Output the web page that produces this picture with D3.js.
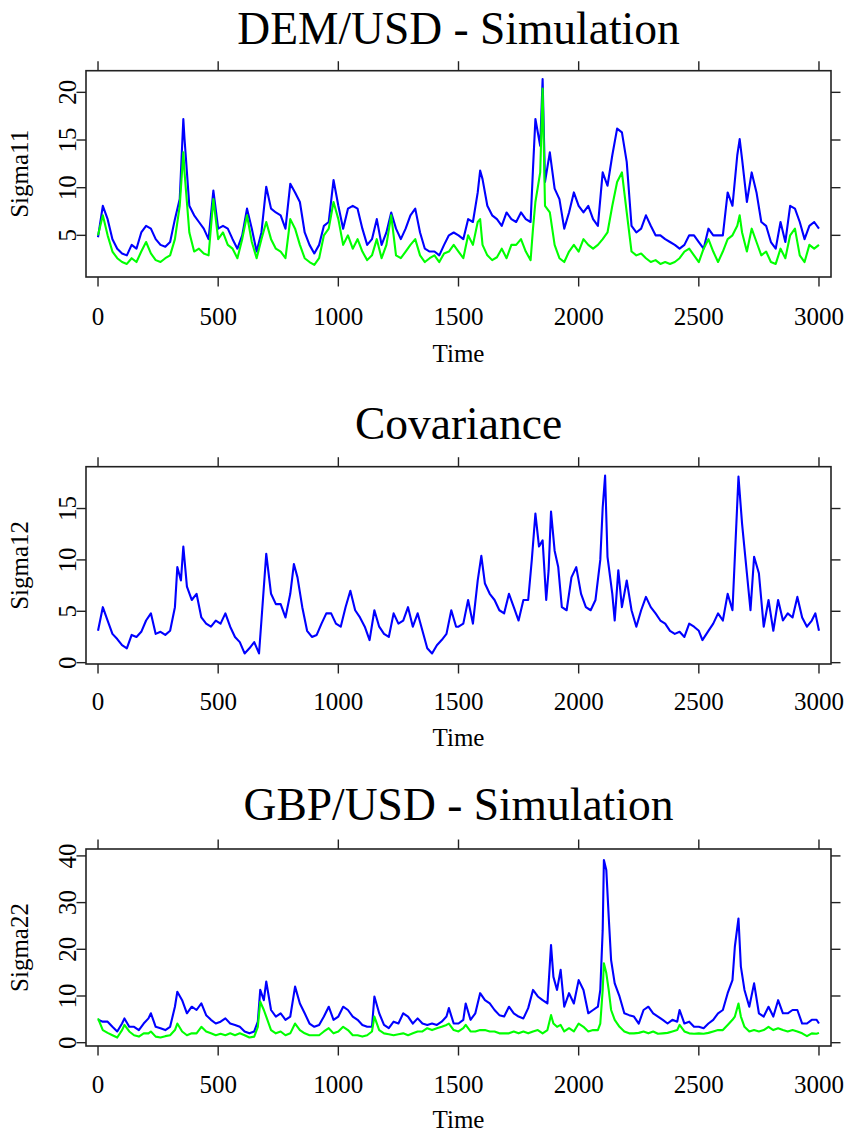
<!DOCTYPE html>
<html><head><meta charset="utf-8">
<script src="https://cdn.jsdelivr.net/npm/d3@7"></script>
<style>
html,body{margin:0;padding:0;background:#fff;}
svg{display:block;}
text{font-family:"Liberation Serif","Times New Roman",serif;fill:#000;}
</style></head>
<body>
<svg id="chart" width="849" height="1133"></svg>
<script>
// ---------------- DATA ----------------
const titles = ["DEM/USD - Simulation", "Covariance", "GBP/USD - Simulation"];
const yLabels = ["Sigma11", "Sigma12", "Sigma22"];
const xLabel = "Time";
const xTicks = [0, 500, 1000, 1500, 2000, 2500, 3000];
const yTicks1 = [5, 10, 15, 20];
const yTicks2 = [0, 5, 10, 15];
const yTicks3 = [0, 10, 20, 30, 40];

const time1 = [0,20,40,60,80,100,120,140,160,180,200,220,240,260,280,300,320,340,355,360,380,400,420,440,460,480,500,520,540,560,580,600,620,640,660,680,700,720,740,760,780,800,820,840,860,880,900,920,940,960,980,1000,1020,1040,1060,1080,1100,1120,1140,1160,1180,1200,1220,1240,1260,1280,1300,1320,1340,1360,1380,1400,1420,1440,1460,1480,
1500,1520,1540,1560,1580,1590,1600,1620,1640,1660,1680,1700,1720,1740,1760,1780,1800,1810,1820,1840,1850,1860,1880,1900,1920,1940,1960,1980,2000,2020,2040,2060,2080,2100,2120,2140,2160,2180,2200,2220,2240,2260,2280,2300,2320,2340,2360,2380,2400,2420,2440,2460,2480,2500,2520,2540,2560,2580,2600,2620,2640,2660,2670,2680,2700,2720,2740,2760,2780,2800,2820,2840,2860,2880,2900,2920,2940,2960,2980,3000];
const sigma11Blue = [4.8,8.1,6.7,4.6,3.6,3.1,2.9,4.0,3.6,5.3,6.0,5.7,4.6,4.0,3.8,4.3,6.7,8.8,17.2,15.1,8.1,7.1,6.4,5.7,4.6,9.7,5.7,6.0,5.7,4.6,3.6,5.0,7.8,5.7,3.3,5.3,10.1,7.8,7.4,7.1,5.7,10.4,9.5,8.5,5.3,4.0,3.1,4.0,6.0,6.4,10.8,8.1,5.7,7.8,8.1,7.8,5.7,4.0,4.6,6.7,4.0,5.3,7.4,5.7,4.6,5.7,7.1,7.8,5.3,3.6,3.3,3.3,2.9,4.0,5.0,5.3,
5.0,4.6,6.7,6.4,9.5,11.8,10.9,8.1,7.1,6.7,6.0,7.4,6.7,6.4,7.4,6.7,6.4,12.0,17.2,14.4,21.4,10.6,13.7,9.9,8.8,5.7,7.4,9.5,8.1,7.4,8.1,6.7,6.0,11.6,10.2,13.4,16.2,15.8,12.7,6.0,5.3,5.7,7.1,6.0,5.0,5.0,4.6,4.3,4.0,3.6,4.0,5.0,5.0,4.3,3.6,5.7,5.0,5.0,5.0,9.5,8.1,13.4,15.1,13.0,8.5,11.6,9.5,6.4,6.0,4.3,3.6,6.4,4.3,8.1,7.8,6.4,4.6,6.0,6.4,5.7];
const sigma11Green = [5.0,7.1,5.0,3.3,2.6,2.2,2.0,2.6,2.2,3.3,4.3,3.1,2.4,2.2,2.6,2.9,4.6,8.1,13.7,11.6,5.3,3.3,3.6,3.1,2.9,8.8,4.6,5.3,4.0,3.6,2.6,4.6,7.1,4.3,2.6,4.6,6.4,4.6,3.6,3.3,2.6,6.7,5.7,4.0,2.6,2.2,1.9,2.6,5.0,5.7,8.5,6.7,4.0,5.0,3.6,4.6,3.3,2.4,2.9,4.6,2.6,4.0,7.1,2.9,2.6,3.3,4.0,4.6,2.9,2.2,2.6,2.9,2.2,3.1,3.3,4.0,
3.3,2.6,5.0,4.0,6.4,6.7,4.0,2.9,2.4,2.7,3.6,2.6,4.0,4.0,4.6,3.3,2.4,5.7,8.5,11.6,20.4,8.1,7.4,4.0,2.6,2.2,3.3,4.0,3.3,4.6,4.0,3.6,4.0,4.6,5.3,8.1,10.6,11.6,7.4,3.3,2.9,3.1,2.6,2.2,2.4,2.0,2.2,2.0,2.2,2.6,3.3,3.6,2.9,2.2,3.6,4.6,3.3,2.2,3.3,4.6,5.0,6.0,7.1,5.3,3.3,5.7,4.3,2.9,3.3,2.2,2.0,3.6,2.6,5.0,5.7,2.9,2.2,4.0,3.6,4.0];

const time2 = [0,20,40,60,80,100,120,140,160,180,200,220,240,260,280,300,320,330,345,355,370,390,410,430,450,470,490,510,530,550,570,590,610,630,650,670,680,700,720,740,760,780,800,815,830,850,870,890,910,930,950,970,990,1010,1030,1050,1070,1090,1110,1130,1150,1170,1190,1210,1230,1250,1270,1290,1310,1330,1350,1370,1390,1410,1430,1450,1470,1490,
1500,1520,1540,1560,1580,1595,1610,1630,1650,1670,1690,1710,1730,1750,1770,1790,1805,1820,1835,1850,1865,1875,1885,1900,1915,1930,1950,1970,1990,2010,2030,2050,2070,2090,2100,2110,2120,2140,2150,2165,2180,2200,2220,2240,2260,2280,2300,2320,2340,2360,2380,2400,2420,2440,2460,2480,2500,2515,2540,2560,2580,2600,2620,2640,2650,2665,2680,2700,2715,2730,2750,2770,2790,2810,2830,2850,2870,2890,2910,2930,2950,2970,2985,3000];
const sigma12 = [3.1,5.4,4.1,2.8,2.3,1.7,1.4,2.7,2.5,3.0,4.1,4.8,2.8,3.0,2.7,3.1,5.4,9.3,8.0,11.3,7.4,6.1,6.7,4.4,3.8,3.5,4.1,3.8,4.8,3.5,2.5,2.0,0.9,1.4,2.0,0.9,4.1,10.6,6.7,5.7,5.7,4.4,6.7,9.6,8.3,5.4,3.1,2.5,2.7,3.8,4.8,4.8,3.8,3.5,5.4,7.0,5.1,4.4,3.5,2.2,5.1,3.5,2.8,2.5,4.8,3.8,4.1,5.4,3.5,4.8,3.1,1.4,0.9,1.7,2.2,2.8,5.1,3.5,
3.5,3.8,6.1,3.8,8.0,10.4,7.7,6.7,6.1,5.1,4.8,6.7,5.4,4.1,6.1,6.1,10.0,14.5,11.3,11.9,6.1,9.0,14.7,10.9,9.3,5.4,5.1,8.3,9.3,6.7,5.4,5.1,6.1,10.0,15.1,18.2,10.3,6.7,4.1,9.0,5.4,8.0,5.1,3.5,5.1,6.4,5.4,4.8,4.1,3.8,3.1,2.8,3.0,2.5,3.8,3.5,3.1,2.2,3.1,3.8,4.8,4.1,6.7,5.1,10.3,18.1,13.5,8.7,5.1,10.3,8.7,3.5,6.1,3.1,6.1,4.1,4.8,4.4,6.4,4.4,3.5,4.1,4.8,3.1];

const time3 = [0,20,40,60,80,100,110,130,150,170,190,210,220,240,260,280,300,320,330,350,370,390,410,430,450,470,490,510,530,550,570,590,610,630,650,665,675,690,700,720,740,760,780,800,820,840,860,880,900,920,940,960,980,1000,1020,1040,1060,1080,1100,1120,1140,1150,1170,1190,1210,1230,1250,1270,1290,1310,1330,1350,1370,1390,1410,1430,1450,1460,1480,
1500,1520,1530,1550,1570,1590,1610,1630,1650,1670,1690,1710,1730,1750,1770,1790,1810,1830,1850,1870,1885,1895,1910,1925,1940,1960,1980,2000,2020,2040,2060,2080,2090,2100,2105,2115,2125,2135,2150,2170,2190,2210,2230,2250,2270,2290,2310,2330,2350,2370,2390,2410,2420,2440,2460,2480,2500,2520,2540,2560,2580,2600,2620,2640,2650,2665,2675,2690,2710,2730,2750,2770,2790,2810,2830,2850,2870,2890,2910,2930,2950,2970,2990,3000];
const sigma22Blue = [4.9,4.5,4.5,3.4,2.4,4.1,5.2,3.4,3.4,2.7,4.1,5.2,6.3,3.4,3.1,2.7,3.4,7.7,10.9,9.1,6.3,7.7,7.0,8.4,5.9,4.9,4.1,4.5,5.2,4.1,3.8,3.4,2.4,2.0,2.4,4.5,11.3,9.1,13.1,7.0,5.6,6.3,4.9,5.6,12.0,8.4,6.3,4.1,3.4,3.8,5.6,7.7,4.9,5.6,7.7,7.0,5.6,4.9,3.8,3.4,3.4,9.9,6.3,3.8,3.1,4.5,4.1,6.3,5.6,4.1,5.2,4.1,3.8,4.1,3.8,4.5,5.6,7.4,4.1,
4.1,4.9,8.4,4.9,6.3,10.6,9.1,8.4,7.0,5.9,5.6,7.7,6.3,5.6,5.2,7.4,11.3,9.9,9.1,8.4,20.9,14.1,11.3,15.6,7.7,10.6,8.4,13.4,11.3,6.3,7.0,7.7,11.3,24.1,39.1,37.0,27.0,17.7,12.7,9.9,6.3,5.9,5.6,4.1,7.0,7.7,6.3,5.6,4.9,4.1,4.9,4.5,7.0,4.1,4.5,3.4,3.4,3.1,4.1,4.9,6.3,7.0,10.6,13.4,20.6,26.6,16.3,11.3,7.7,12.7,6.3,5.6,7.7,5.6,9.1,6.3,6.3,7.0,7.0,4.1,4.1,4.9,4.9,4.1];
const sigma22Green = [5.2,2.7,2.1,1.6,1.1,2.7,3.8,2.4,1.6,1.3,2.0,2.0,2.4,1.3,1.1,1.4,1.6,2.7,4.1,2.4,1.6,2.0,2.0,3.4,2.4,2.0,1.6,1.9,1.6,2.0,1.6,2.0,1.6,1.1,1.3,3.4,8.8,7.0,5.6,2.7,2.0,2.4,1.6,2.0,4.1,2.7,2.0,1.6,1.6,1.6,2.4,3.1,2.0,2.4,3.4,2.7,1.6,1.6,1.3,1.6,2.4,5.6,2.7,2.0,1.8,1.6,1.8,2.0,1.6,2.0,2.4,2.4,3.1,2.7,3.1,3.4,3.8,4.1,2.7,
2.4,3.1,3.8,2.4,2.4,2.7,2.7,2.4,2.4,2.0,2.0,2.0,2.4,2.0,2.4,2.0,2.4,2.7,2.0,2.7,5.9,4.1,3.4,3.8,2.4,3.1,2.4,4.1,3.4,2.4,2.7,2.7,4.1,11.3,17.0,14.9,11.3,7.0,4.9,3.4,2.4,2.0,2.0,2.1,2.4,2.0,2.4,1.9,2.0,2.1,2.4,2.7,3.8,2.4,2.0,1.9,2.0,1.9,2.1,2.4,2.7,2.7,3.8,4.9,5.6,8.4,5.6,3.4,2.4,2.7,2.4,2.7,3.4,2.7,3.1,2.7,2.4,2.7,2.4,2.0,1.4,2.0,1.9,2.1];

const blueColor = "#0000ff";
const greenColor = "#00ff00";

// ---------------- LAYOUT ----------------
const W = 849, H = 1133;
const boxLeft = 86, boxRight = 831;
const xDomain = [-50, 3050];
const tickLen = 9.5;

const panels = [
  {title: titles[0], ylab: yLabels[0], time: time1, series: [[sigma11Blue, blueColor], [sigma11Green, greenColor]],
   yDomain: [0.63, 22.27], yTicks: yTicks1, top: 70.7, bottom: 277, titleY: 43.5, tickLabelY: 325, xlabY: 361.5},
  {title: titles[1], ylab: yLabels[1], time: time2, series: [[sigma12, blueColor]],
   yDomain: [-0.13, 19.07], yTicks: yTicks2, top: 466.7, bottom: 664, titleY: 438.5, tickLabelY: 710, xlabY: 746},
  {title: titles[2], ylab: yLabels[2], time: time3, series: [[sigma22Blue, blueColor], [sigma22Green, greenColor]],
   yDomain: [-0.71, 41.48], yTicks: yTicks3, top: 849, bottom: 1046, titleY: 820, tickLabelY: 1093, xlabY: 1128}
];

const svg = d3.select("#chart");
svg.append("rect").attr("width", W).attr("height", H).attr("fill", "#fff");

panels.forEach(p => {
  p.series.forEach(s => {
    if (s[0].length !== p.time.length) throw new Error(p.ylab + " length mismatch: " + s[0].length + " vs " + p.time.length);
  });
  const x = d3.scaleLinear().domain(xDomain).range([boxLeft, boxRight]);
  const y = d3.scaleLinear().domain(p.yDomain).range([p.bottom, p.top]);
  const g = svg.append("g");

  const clipId = "clip" + p.ylab;
  svg.append("clipPath").attr("id", clipId).append("rect")
    .attr("x", boxLeft).attr("y", p.top).attr("width", boxRight - boxLeft).attr("height", p.bottom - p.top);
  p.series.forEach(([vals, color]) => {
    const line = d3.line().x((d, i) => x(p.time[i])).y(d => y(d));
    g.append("path").attr("d", line(vals)).attr("fill", "none")
      .attr("stroke", color).attr("stroke-width", 2.1).attr("stroke-linejoin", "round")
      .attr("clip-path", `url(#${clipId})`);
  });

  g.append("rect").attr("x", boxLeft).attr("y", p.top).attr("width", boxRight - boxLeft).attr("height", p.bottom - p.top)
    .attr("fill", "none").attr("stroke", "#222").attr("stroke-width", 1.6);

  const ax = g.append("g").attr("stroke", "#222").attr("stroke-width", 1.4);
  xTicks.forEach(t => {
    ax.append("line").attr("x1", x(t)).attr("x2", x(t)).attr("y1", p.bottom).attr("y2", p.bottom + tickLen);
    ax.append("line").attr("x1", x(t)).attr("x2", x(t)).attr("y1", p.top).attr("y2", p.top - tickLen);
  });
  g.selectAll(null).data(xTicks).enter().append("text")
    .attr("x", d => x(d)).attr("y", p.tickLabelY).attr("text-anchor", "middle")
    .attr("font-size", 25).text(d => d);

  p.yTicks.forEach(v => {
    ax.append("line").attr("x1", boxLeft - tickLen).attr("x2", boxLeft).attr("y1", y(v)).attr("y2", y(v));
    ax.append("line").attr("x1", boxRight).attr("x2", boxRight + tickLen).attr("y1", y(v)).attr("y2", y(v));
  });
  g.selectAll(null).data(p.yTicks).enter().append("text")
    .attr("transform", d => `translate(76,${y(d)}) rotate(-90)`)
    .attr("text-anchor", "middle").attr("font-size", 25).text(d => d);

  g.append("text").attr("x", (boxLeft + boxRight) / 2).attr("y", p.titleY).attr("text-anchor", "middle")
    .attr("font-size", 45.5).text(p.title);
  g.append("text").attr("x", (boxLeft + boxRight) / 2).attr("y", p.xlabY).attr("text-anchor", "middle")
    .attr("font-size", 25).text(xLabel);
  g.append("text").attr("transform", `translate(28,${(p.top + p.bottom) / 2}) rotate(-90)`)
    .attr("text-anchor", "middle").attr("font-size", 25).text(p.ylab);
});
</script>
</body></html>
